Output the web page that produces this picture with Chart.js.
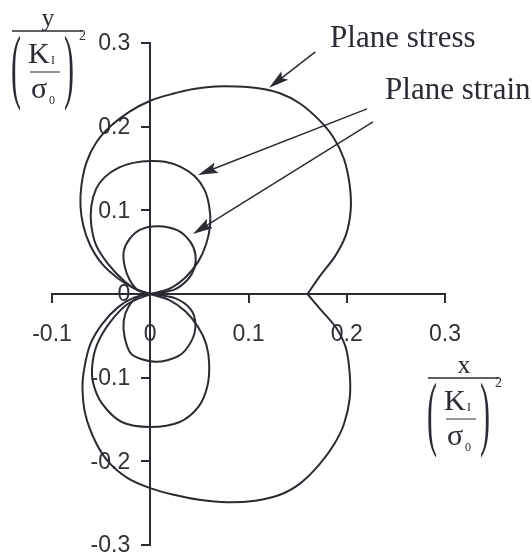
<!DOCTYPE html>
<html>
<head>
<meta charset="utf-8">
<title>Plastic zone shapes</title>
<script src="https://cdn.jsdelivr.net/npm/chart.js@4.4.1/dist/chart.umd.min.js"></script>
<style>
  html, body { margin: 0; padding: 0; background: #ffffff; }
  #wrap { width: 532px; height: 560px; }
</style>
</head>
<body>
<div id="wrap"><canvas id="chart" width="532" height="560"></canvas></div>
<script>
'use strict';

// tick values on both axes
const xTickValues = [-0.1, 0, 0.1, 0.2, 0.3];
const yTickValues = [-0.3, -0.2, -0.1, 0, 0.1, 0.2, 0.3];

// plane stress boundary, from the cusp on the x axis round to the crack tip
const stressUpper = [
  [0.160, 0.000], [0.173, 0.022], [0.188, 0.045], [0.199, 0.070], [0.204, 0.100],
  [0.203, 0.130], [0.197, 0.162], [0.186, 0.188], [0.171, 0.209], [0.152, 0.228],
  [0.132, 0.240], [0.110, 0.246], [0.088, 0.248], [0.066, 0.248], [0.044, 0.245],
  [0.022, 0.239], [0.000, 0.231], [-0.021, 0.218], [-0.040, 0.201], [-0.055, 0.181],
  [-0.065, 0.157], [-0.070, 0.130], [-0.071, 0.105], [-0.068, 0.081], [-0.061, 0.058],
  [-0.049, 0.036], [-0.032, 0.018], [-0.015, 0.006], [0.000, 0.000]
];
const stressLower = [
  [0.160, 0.000], [0.173, -0.018], [0.189, -0.040], [0.199, -0.064], [0.203, -0.095],
  [0.203, -0.125], [0.197, -0.156], [0.187, -0.180], [0.172, -0.204], [0.153, -0.226],
  [0.132, -0.240], [0.107, -0.247], [0.078, -0.249], [0.050, -0.246], [0.024, -0.240],
  [0.000, -0.232], [-0.023, -0.220], [-0.043, -0.200], [-0.056, -0.176], [-0.066, -0.144],
  [-0.069, -0.112], [-0.067, -0.088], [-0.061, -0.060], [-0.049, -0.036], [-0.033, -0.016],
  [-0.016, -0.004], [0.000, 0.000]
];

// plane strain, outer loop
const strainOuterUpper = [
  [0.000, 0.000], [0.019, 0.006], [0.036, 0.020], [0.049, 0.039], [0.057, 0.060],
  [0.061, 0.083], [0.060, 0.105], [0.055, 0.125], [0.045, 0.141], [0.031, 0.152],
  [0.015, 0.158], [0.000, 0.159], [-0.016, 0.157], [-0.032, 0.151], [-0.046, 0.140],
  [-0.055, 0.126], [-0.060, 0.105], [-0.060, 0.082], [-0.055, 0.058], [-0.043, 0.036],
  [-0.026, 0.015], [-0.012, 0.004], [0.000, 0.000]
];
const strainOuterLower = [
  [0.000, 0.000], [0.019, -0.007], [0.036, -0.021], [0.049, -0.040], [0.057, -0.060],
  [0.060, -0.084], [0.058, -0.111], [0.049, -0.135], [0.030, -0.153], [0.000, -0.159],
  [-0.029, -0.153], [-0.049, -0.131], [-0.058, -0.107], [-0.059, -0.085], [-0.054, -0.060],
  [-0.041, -0.034], [-0.023, -0.012], [0.000, 0.000]
];

// plane strain, inner loop
const strainInnerUpper = [
  [0.000, 0.000], [0.024, 0.005], [0.038, 0.017], [0.045, 0.031], [0.046, 0.047],
  [0.041, 0.062], [0.028, 0.076], [0.008, 0.081], [-0.010, 0.077], [-0.021, 0.066],
  [-0.027, 0.051], [-0.026, 0.033], [-0.021, 0.017], [-0.013, 0.005], [0.000, 0.000]
];
const strainInnerLower = [
  [0.000, 0.000], [0.025, -0.005], [0.041, -0.018], [0.046, -0.036], [0.042, -0.056],
  [0.029, -0.074], [0.005, -0.081], [-0.019, -0.072], [-0.026, -0.052], [-0.027, -0.032],
  [-0.022, -0.015], [-0.012, -0.003], [0.000, 0.000]
];

const ink = '#2a2b33';
const sans = '"Liberation Sans", Arial, sans-serif';
const serif = '"Liberation Serif", "Times New Roman", serif';

function toPoints(arr) {
  return arr.map(p => ({ x: p[0], y: p[1] }));
}

function curve(arr) {
  return {
    data: toPoints(arr),
    showLine: true,
    borderColor: ink,
    borderWidth: 2,
    pointRadius: 0,
    tension: 0.3,
    borderCapStyle: 'round',
    borderJoinStyle: 'round'
  };
}

function tickLabel(v) {
  const r = Math.round(v * 10) / 10;
  return r === 0 ? '0' : String(r);
}

// arrows and labels (data units)
const notes = [
  { text: 'Plane stress', x: 0.183, y: 0.2955 },
  { text: 'Plane strain', x: 0.239, y: 0.2333 }
];
const arrows = [
  { from: [0.168, 0.2895], to: [0.121, 0.2464] },
  { from: [0.2206, 0.2213], to: [0.0486, 0.1423] },
  { from: [0.2267, 0.2057], to: [0.0435, 0.0718] }
];

function drawArrow(ctx, x1, y1, x2, y2) {
  const ang = Math.atan2(y2 - y1, x2 - x1);
  const c = Math.cos(ang), s = Math.sin(ang);
  const len = 20, half = 5.5;
  ctx.beginPath();
  ctx.moveTo(x1, y1);
  ctx.lineTo(x2 - c * 10, y2 - s * 10);
  ctx.stroke();
  ctx.beginPath();
  ctx.moveTo(x2, y2);
  ctx.lineTo(x2 - len * c + half * s, y2 - len * s - half * c);
  ctx.lineTo(x2 - len * 0.8 * c, y2 - len * 0.8 * s);
  ctx.lineTo(x2 - len * c - half * s, y2 - len * s + half * c);
  ctx.closePath();
  ctx.fill();
}

function drawParen(ctx, ch, x, yMid) {
  ctx.save();
  ctx.translate(x, yMid);
  ctx.scale(1, 2.75);
  ctx.font = '30px ' + serif;
  ctx.textAlign = 'left';
  ctx.textBaseline = 'middle';
  ctx.fillText(ch, 0, 0);
  ctx.restore();
}

// axis title of the form  v / (K_I / sigma_0)^2, L,T = left end of the main bar
function drawFraction(ctx, letter, L, T) {
  ctx.save();
  ctx.fillStyle = ink;
  ctx.strokeStyle = ink;
  ctx.textBaseline = 'alphabetic';

  ctx.font = '26px ' + serif;
  ctx.textAlign = 'center';
  ctx.fillText(letter, L + 36, T - 5);

  ctx.lineWidth = 1.5;
  ctx.beginPath();
  ctx.moveTo(L, T);
  ctx.lineTo(L + 71, T);
  ctx.stroke();

  drawParen(ctx, '(', L - 1, T + 40);
  drawParen(ctx, ')', L + 52, T + 40);

  ctx.textAlign = 'left';
  ctx.font = '30px ' + serif;
  ctx.fillText('K', L + 16, T + 32);
  ctx.fillText('\u03C3', L + 19, T + 67);
  ctx.font = '12px ' + serif;
  ctx.fillText('I', L + 39, T + 33);
  ctx.fillText('0', L + 37, T + 73);
  ctx.font = '14px ' + serif;
  ctx.fillText('2', L + 67, T + 9);

  ctx.lineWidth = 1;
  ctx.beginPath();
  ctx.moveTo(L + 18, T + 41);
  ctx.lineTo(L + 48, T + 41);
  ctx.stroke();
  ctx.restore();
}

const extras = {
  id: 'extras',
  // y tick labels sit left of the centred y axis, under the curves
  beforeDatasetsDraw(chart) {
    const ctx = chart.ctx;
    const xs = chart.scales.x, ys = chart.scales.y;
    const x0 = xs.getPixelForValue(0);
    ctx.save();
    ctx.fillStyle = '#303036';
    ctx.font = '23px ' + sans;
    ctx.textAlign = 'right';
    ctx.textBaseline = 'middle';
    yTickValues.forEach(v => {
      ctx.fillText(tickLabel(v), x0 - 20, ys.getPixelForValue(v) + 1);
    });
    ctx.restore();
  },
  afterDraw(chart) {
    const ctx = chart.ctx;
    const xs = chart.scales.x, ys = chart.scales.y;
    ctx.save();
    ctx.fillStyle = ink;
    ctx.strokeStyle = ink;
    ctx.lineWidth = 1.5;
    arrows.forEach(a => {
      drawArrow(ctx,
        xs.getPixelForValue(a.from[0]), ys.getPixelForValue(a.from[1]),
        xs.getPixelForValue(a.to[0]), ys.getPixelForValue(a.to[1]));
    });
    ctx.font = '31px ' + serif;
    ctx.textAlign = 'left';
    ctx.textBaseline = 'alphabetic';
    notes.forEach(n => {
      ctx.fillText(n.text, xs.getPixelForValue(n.x), ys.getPixelForValue(n.y));
    });
    ctx.restore();

    drawFraction(ctx, 'y', 12, 31);
    drawFraction(ctx, 'x', 428, 378);
  }
};

const axisStyle = {
  type: 'linear',
  border: { display: true, color: ink, width: 2 },
  grid: { drawOnChartArea: false, color: ink, lineWidth: 2, tickLength: 8 },
};

new Chart(document.getElementById('chart'), {
  type: 'scatter',
  data: {
    datasets: [
      curve(stressUpper), curve(stressLower),
      curve(strainOuterUpper), curve(strainOuterLower),
      curve(strainInnerUpper), curve(strainInnerLower)
    ]
  },
  options: {
    responsive: false,
    animation: false,
    layout: { padding: { left: 52, right: 87, top: 43, bottom: 15 } },
    plugins: { legend: { display: false }, tooltip: { enabled: false } },
    scales: {
      x: Object.assign({}, axisStyle, {
        position: { y: 0 },
        min: -0.1, max: 0.3,
        afterBuildTicks: s => { s.ticks = xTickValues.map(v => ({ value: v })); },
        ticks: {
          color: '#303036', padding: 19, maxRotation: 0,
          font: { family: sans, size: 23 },
          callback: tickLabel
        }
      }),
      y: Object.assign({}, axisStyle, {
        position: { x: 0 },
        min: -0.3, max: 0.3,
        afterBuildTicks: s => { s.ticks = yTickValues.map(v => ({ value: v })); },
        ticks: { display: false }
      })
    }
  },
  plugins: [extras]
});
</script>
</body>
</html>
